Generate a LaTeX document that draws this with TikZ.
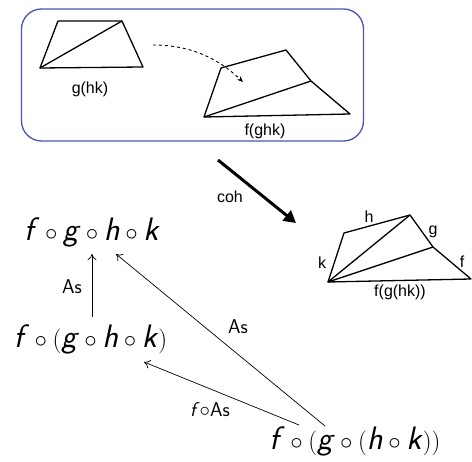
\documentclass[tikz,border=0pt]{standalone}
\usepackage{fontspec}
\newfontfamily\arial{Liberation Sans}
\usetikzlibrary{arrows.meta}
\definecolor{boxblue}{RGB}{72,86,178}
\newcommand{\sv}[1]{\textsf{\textit{#1}}}
\tikzset{
  shape line/.style={line width=1.3pt, line join=round},
  plabel/.style={font=\arial\fontsize{16}{18}\selectfont, inner sep=0pt},
  mathnode/.style={font=\fontsize{32.5}{38}\selectfont, inner sep=0pt},
  slabel/.style={font=\sffamily\fontsize{20}{24}\selectfont, inner sep=0pt},
  thin arrow/.style={line width=0.7pt, -{To[length=6pt,width=9pt]}},
}
\begin{document}
\begin{tikzpicture}[x=1pt,y=-1pt]
\useasboundingbox (0,0) rectangle (472,462);
% box
\node[draw=boxblue, line width=1.3pt, rounded corners=20pt, minimum width=342pt, minimum height=132pt, inner sep=0pt] (box) at (192.5,75) {};
% left trapezoid
\draw[shape line] (58,21) -- (122,21) -- (143,67) -- (40,68) -- cycle;
\draw[shape line] (40,68) -- (122,21);
\node[plabel] (ghk) at (90,89) {g(hk)};
% right shape in box
\draw[shape line] (204,117) -- (221,68) -- (286,50) -- (311,81) -- (350,114) -- cycle;
\draw[shape line] (204,117) -- (311,81);
\node[plabel] (fghk) at (265,131) {f(ghk)};
% dashed arrow
\coordinate (da) at (153,45);
\coordinate (db) at (243,82);
\draw[dashed, line width=0.9pt, -{Stealth[length=6pt,width=5pt]}] (da) .. controls (195,45) and (222,62) .. (db);
% coh arrow
\coordinate (ca) at (218,160);
\coordinate (cb) at (296,223);
\draw[line width=3pt, -{Triangle[length=12pt,width=13pt]}] (ca) -- (cb);
\node[plabel] (coh) at (230,197) {coh};
% bottom-right shape
\draw[shape line] (328,282) -- (344,233) -- (410,215) -- (433,247) -- (471,279) -- cycle;
\draw[shape line] (328,282) -- (410,215);
\draw[shape line] (328,282) -- (433,247);
\node[plabel] (lh) at (369,217) {h};
\node[plabel] (lg) at (433,232) {g};
\node[plabel] (lf) at (462,262) {f};
\node[plabel] (lk) at (322,263) {k};
\node[plabel] (lfg) at (400,292) {f(g(hk))};
% math diagram
\node[mathnode] (A) at (92,232) {$\sv{f}\circ\sv{g}\circ\sv{h}\circ\sv{k}$};
\node[mathnode] (B) at (90.5,339) {$\sv{f}\circ(\sv{g}\circ\sv{h}\circ\sv{k})$};
\node[mathnode] (C) at (355,441) {$\sv{f}\circ(\sv{g}\circ(\sv{h}\circ\sv{k}))$};
\coordinate (Bt) at (92,317);
\coordinate (At) at (92,254);
\coordinate (Ct1) at (325,426);
\coordinate (At2) at (116,254);
\coordinate (Ct2) at (299,425);
\coordinate (Bt2) at (144,362);
\draw[thin arrow] (Bt) -- (At);
\draw[thin arrow] (Ct1) -- (At2);
\draw[thin arrow] (Ct2) -- (Bt2);
\node[slabel] (as1) at (72,287) {As};
\node[slabel] (as2) at (238,327) {As};
\node[slabel] (fas) at (210,410) {\sv{f}$\circ$As};
\end{tikzpicture}
\end{document}
